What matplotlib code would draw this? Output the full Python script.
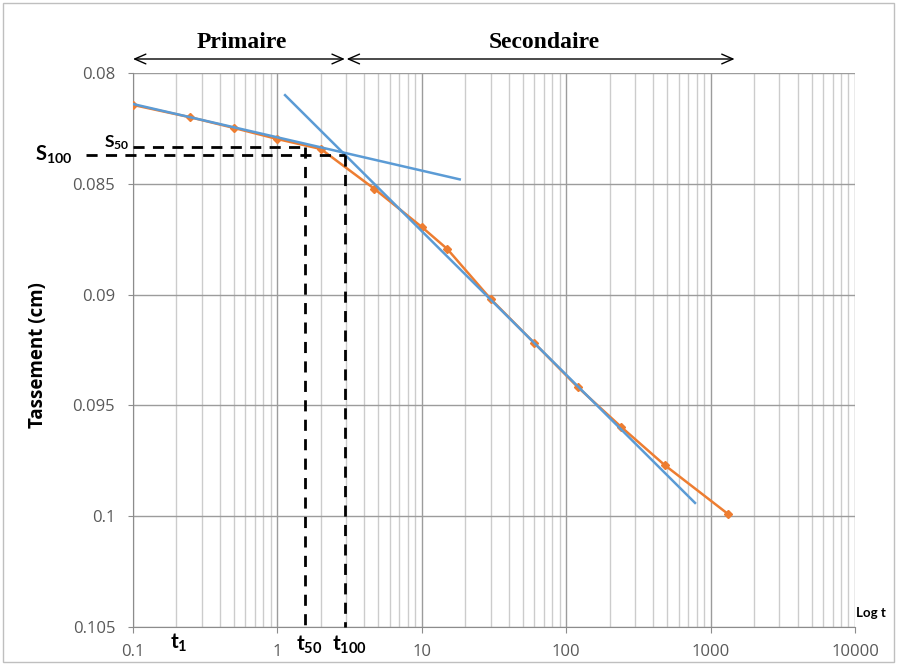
import matplotlib
matplotlib.use("Agg")
import matplotlib.pyplot as plt
from matplotlib.patches import Rectangle
from matplotlib.ticker import LogLocator, FixedLocator, NullFormatter

plt.rcParams["mathtext.fontset"] = "custom"
plt.rcParams["mathtext.rm"] = "Lato:bold"
plt.rcParams["mathtext.it"] = "Lato:bold"
plt.rcParams["mathtext.bf"] = "Lato:bold"

# ---- data ----
t_obs = [0.1, 0.25, 0.5, 1, 2, 4.7, 10, 15, 30, 60, 120, 240, 480, 1320]
s_obs = [0.08144, 0.0820, 0.08248, 0.08298, 0.08343, 0.08523, 0.08695,
         0.08794, 0.0902, 0.09218, 0.09417, 0.09597, 0.09769, 0.0999]
tan1_t = [0.1, 18.3]
tan1_s = [0.0814, 0.0848]
tan2_t = [1.13, 780]
tan2_s = [0.0810, 0.0994]
t50, s50 = 1.55, 0.08334
t100, s100 = 2.93, 0.0837
y_ticks = [0.08, 0.085, 0.09, 0.095, 0.1, 0.105]
y_ticklabels = ["0.08", "0.085", "0.09", "0.095", "0.1", "0.105"]
x_ticks = [0.1, 1, 10, 100, 1000, 10000]
x_ticklabels = ["0.1", "1", "10", "100", "1000", "10000"]

W, H = 897, 665
fig = plt.figure(figsize=(W / 100, H / 100), dpi=100)
ax = fig.add_axes([133 / W, 1 - 627 / H, (855 - 133) / W, (627 - 73) / H])

ax.set_xscale("log")
ax.set_xlim(0.1, 10000)
ax.set_ylim(0.105, 0.08)

ax.xaxis.set_major_locator(FixedLocator(x_ticks))
ax.set_xticklabels(x_ticklabels)
ax.xaxis.set_minor_locator(LogLocator(base=10, subs=range(2, 10)))
ax.xaxis.set_minor_formatter(NullFormatter())
ax.set_yticks(y_ticks)
ax.set_yticklabels(y_ticklabels)

ax.grid(True, which="major", axis="both", color="#9c9c9c", lw=1.0)
ax.grid(True, which="minor", axis="x", color="#cccccc", lw=1.0)
ax.set_axisbelow(True)
for side in ["top", "right"]:
    ax.spines[side].set_visible(False)
for side in ["left", "bottom"]:
    ax.spines[side].set_color("#8c8c8c")
ax.tick_params(axis="y", which="major", length=3.8, color="#8c8c8c",
               labelsize=12, labelcolor="#595959", pad=9)
ax.tick_params(axis="x", which="major", length=4.3, color="#8c8c8c",
               labelsize=12, labelcolor="#595959", pad=8)
ax.tick_params(axis="x", which="minor", length=0)
for lab in ax.get_xticklabels() + ax.get_yticklabels():
    lab.set_fontfamily("Open Sans")

# data series
ax.plot(t_obs, s_obs, color="#ED7D31", lw=1.8, marker="D", ms=4, zorder=3)
ax.plot(tan1_t, tan1_s, color="#5B9BD5", lw=1.8, zorder=4)
ax.plot(tan2_t, tan2_s, color="#5B9BD5", lw=1.8, zorder=4)

# dashed construction lines
dkw = dict(color="black", lw=2, ls=(0, (4, 3)), zorder=5, clip_on=False)
ax.plot([0.1, t50], [s50, s50], **dkw)
ax.plot([t50, t50], [s50, 0.105], **dkw)
ax.plot([0.047, t100], [s100, s100], **dkw)
ax.plot([t100, t100], [s100, 0.105], **dkw)

# y label
fig.text(38 / W, 1 - 355 / H, "Tassement (cm)", rotation=90, ha="center",
         va="center", fontsize=13.5, fontweight="bold", family="Open Sans")

# top arrows
arr = dict(arrowstyle="<->,head_length=0.8,head_width=0.35", color="black",
           lw=1, shrinkA=0, shrinkB=0)
ay = 1 - 59 / H
ax.annotate("", xy=(t100, ay), xytext=(0.1, ay),
            xycoords=("data", "figure fraction"),
            textcoords=("data", "figure fraction"), arrowprops=arr,
            annotation_clip=False)
ax.annotate("", xy=(1466, ay), xytext=(t100 * 1.03, ay),
            xycoords=("data", "figure fraction"),
            textcoords=("data", "figure fraction"), arrowprops=arr,
            annotation_clip=False)
fig.text(242 / W, 1 - 43 / H, "Primaire", ha="center", va="center",
         fontsize=17, fontweight="bold", family="Liberation Serif")
fig.text(544 / W, 1 - 43 / H, "Secondaire", ha="center", va="center",
         fontsize=17, fontweight="bold", family="Liberation Serif")

# annotation letters
fig.text(117 / W, 1 - 143 / H, "S$_{50}$", ha="center", va="center",
         fontsize=12.5, family="Lato", fontweight="bold")
fig.text(54 / W, 1 - 155 / H, "S$_{100}$", ha="center", va="center",
         fontsize=14.5, family="Lato", fontweight="bold")
fig.text(179 / W, 1 - 643 / H, "t$_{1}$", ha="center", va="center",
         fontsize=15, family="Lato", fontweight="bold")
fig.text(309 / W, 1 - 645 / H, "t$_{50}$", ha="center", va="center",
         fontsize=15, family="Lato", fontweight="bold")
fig.text(350 / W, 1 - 645 / H, "t$_{100}$", ha="center", va="center",
         fontsize=15, family="Lato", fontweight="bold")
fig.text(871 / W, 1 - 613 / H, "Log t", ha="center", va="center",
         fontsize=9.5, family="Lato", fontweight="bold")

# chart frame
fig.patches.append(Rectangle((3 / W, 3 / H), (W - 6) / W, (H - 6) / H,
                             transform=fig.transFigure, fill=False,
                             edgecolor="#bfbfbf", lw=1))

fig.savefig("out.png", dpi=100)
